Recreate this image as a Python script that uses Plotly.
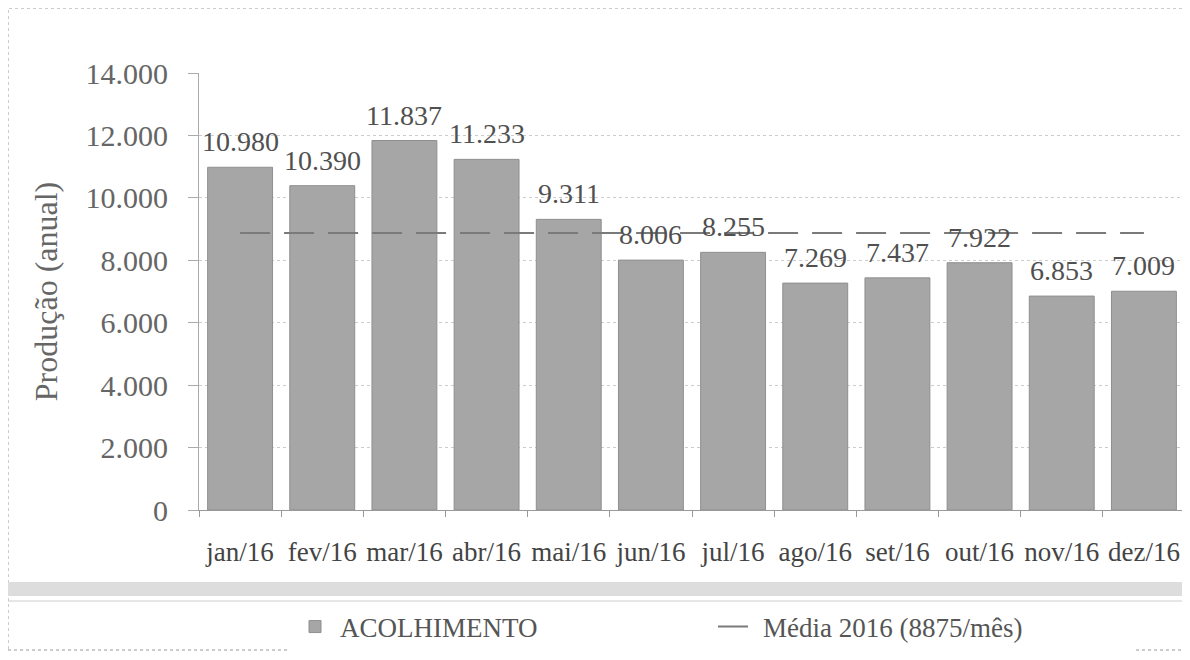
import plotly.graph_objects as go

months = ["jan/16", "fev/16", "mar/16", "abr/16", "mai/16", "jun/16",
          "jul/16", "ago/16", "set/16", "out/16", "nov/16", "dez/16"]
acolhimento = [10980, 10390, 11837, 11233, 9311, 8006, 8255, 7269, 7437, 7922, 6853, 7009]
media_2016 = 8875
y_ticks = [0, 2000, 4000, 6000, 8000, 10000, 12000, 14000]

serif = "Liberation Serif"

fig = go.Figure()
fig.add_trace(go.Bar(
    x=months, y=acolhimento, name="ACOLHIMENTO",
    marker=dict(color="#a6a6a6", line=dict(color="#8f8f8f", width=1)),
    width=0.79,
))
fig.add_trace(go.Scatter(
    x=months, y=[media_2016] * len(months), name="Média 2016 (8875/mês)",
    mode="lines", line=dict(color="#7a7a7a", width=2, dash="30px,14px"),
))

for m, v in zip(months, acolhimento):
    fig.add_annotation(x=m, y=v, text=f"{v:,}".replace(",", "."),
                       showarrow=False, yanchor="bottom", yshift=8,
                       font=dict(family=serif, size=28, color="#505050"))

# page body has an 8px offset; figure coords = screen coords - 8
W, H = 1190, 660
ml, mr, mt, mb = 191, 13, 65, 158
pw, ph = W - ml - mr, H - mt - mb

def px(x):
    return (x - 8 - ml) / pw

def py(y):
    return (H - mb - (y - 8)) / ph

fig.update_layout(
    width=W, height=H,
    margin=dict(l=ml, r=mr, t=mt, b=mb, autoexpand=False),
    paper_bgcolor="white", plot_bgcolor="white",
    separators=",.",
    font=dict(family=serif, color="#555555"),
    showlegend=True,
    legend=dict(orientation="h", x=px(290), xanchor="left", y=py(627), yanchor="middle",
                font=dict(family=serif, size=27, color="#555555"),
                itemwidth=40, entrywidth=368, entrywidthmode="pixels"),
    xaxis=dict(
        type="category", tickfont=dict(family=serif, size=27, color="#444444"),
        tickangle=0,
        showline=True, linecolor="#999999", linewidth=1,
        ticks="outside", tickcolor="#999999", ticklen=6, tickson="boundaries",
        ticklabelstandoff=18,
        showgrid=False, automargin=False,
    ),
    yaxis=dict(
        range=[0, 14000], tickvals=y_ticks, tickformat=",d",
        tickfont=dict(family=serif, size=30, color="#666666"),
        title=dict(text="Produção (anual)", font=dict(family=serif, size=32, color="#666666"), standoff=18),
        showgrid=True, gridcolor="#cccccc", griddash="dot", gridwidth=1,
        showline=True, linecolor="#aaaaaa", linewidth=1, ticks="outside",
        tickcolor="#aaaaaa", ticklen=10, ticklabelstandoff=14,
        zeroline=False, automargin=False,
    ),
    shapes=[
        dict(type="rect", xref="paper", yref="paper",
             x0=px(8), x1=px(1183), y0=py(650), y1=py(8),
             line=dict(color="#999999", width=1, dash="dot")),
        dict(type="line", xref="paper", yref="paper",
             x0=px(8), x1=px(1183), y0=py(589), y1=py(589),
             line=dict(color="#dddddd", width=14)),
        dict(type="line", xref="paper", yref="paper",
             x0=px(8), x1=px(1183), y0=py(601), y1=py(601),
             line=dict(color="#cccccc", width=1)),
    ],
)

fig.write_html("out.html")
